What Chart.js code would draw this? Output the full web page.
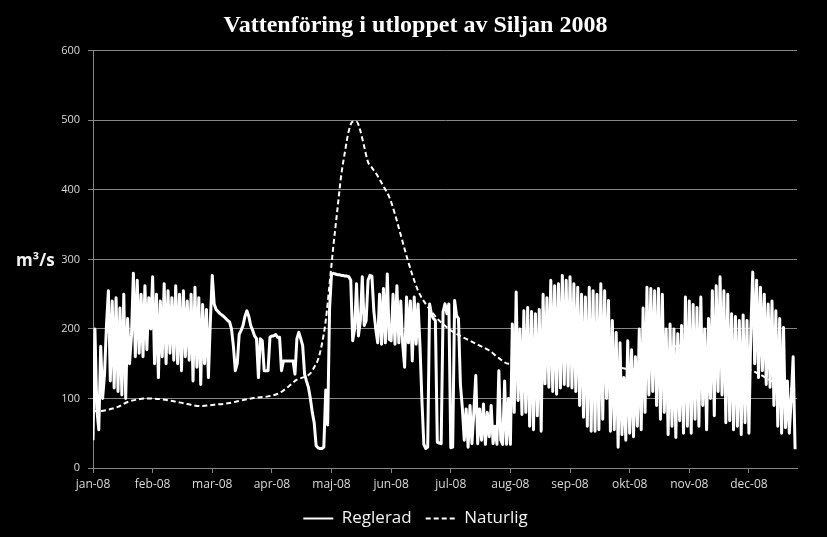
<!DOCTYPE html>
<html>
<head>
<meta charset="utf-8">
<title>Vattenföring i utloppet av Siljan 2008</title>
<script src="https://cdn.jsdelivr.net/npm/chart.js@4.4.0/dist/chart.umd.min.js"></script>
<style>
  html, body { margin: 0; padding: 0; background: #000; }
  canvas { display: block; }
</style>
</head>
<body>
<canvas id="chart" width="827" height="537"></canvas>
<script>
// x-axis: one category per day, Excel puts a tick every 31 days
const monthLabels = ['jan-08', 'feb-08', 'mar-08', 'apr-08', 'maj-08', 'jun-08',
  'jul-08', 'aug-08', 'sep-08', 'okt-08', 'nov-08', 'dec-08'];
const monthTicks = [0, 31, 62, 93, 124, 155, 186, 217, 248, 279, 310, 341];

// Reglerad (m3/s), one value per day
const reglerad = [
  40, 200, 85, 55, 175, 100, 135, 205, 255, 125, 240, 115, 245, 110, 230, 105, 250, 100, 215, 150, 190, 280, 160, 270, 165, 250, 160, 262, 170, 245, 200,
  275, 150, 250, 130, 240, 160, 265, 150, 255, 165, 245, 155, 262, 150, 250, 140, 255, 160, 240, 155, 250, 125, 260, 145, 245, 120, 235, 150, 228, 130, 210,
  277, 236, 228, 225, 222, 220, 218, 215, 212, 210, 200, 175, 140, 150, 192, 198, 205, 218, 226, 218, 205, 198, 190, 186, 130, 186, 183, 140, 140, 140, 188,
  190, 190, 192, 188, 188, 140, 154, 154, 154, 154, 154, 154, 135, 186, 195, 186, 176, 135, 125, 116, 100, 80, 65, 32, 29, 28, 28, 30, 112, 62, 230,
  279, 280, 279, 278, 278, 277, 277, 276, 276, 275, 270, 183, 200, 265, 190, 212, 275, 205, 212, 270, 277, 276, 226, 200, 180, 250, 178, 258, 180, 279, 185,
  183, 250, 178, 262, 180, 240, 178, 145, 246, 180, 240, 154, 246, 178, 236, 175, 97, 34, 28, 30, 236, 220, 215, 212, 37, 36, 35, 225, 236, 222, 236,
  29, 30, 241, 219, 215, 121, 87, 40, 85, 30, 90, 35, 80, 133, 35, 85, 40, 92, 34, 80, 45, 90, 35, 60, 34, 140, 40, 34, 125, 34, 100,
  34, 207, 80, 253, 97, 200, 77, 226, 80, 231, 60, 225, 55, 222, 75, 228, 53, 250, 121, 245, 116, 270, 110, 262, 106, 265, 115, 277, 120, 270, 118,
  275, 115, 265, 110, 260, 90, 250, 73, 246, 60, 260, 53, 255, 53, 250, 55, 265, 70, 255, 100, 241, 53, 212, 55, 195, 30, 180, 48, 130, 40, 183,
  50, 170, 45, 160, 60, 200, 55, 230, 80, 260, 105, 258, 110, 255, 90, 258, 70, 250, 80, 200, 48, 207, 60, 200, 44, 193, 68, 205, 50, 246, 60,
  240, 50, 235, 70, 231, 60, 246, 90, 200, 55, 215, 100, 255, 75, 262, 110, 275, 105, 255, 65, 250, 68, 222, 55, 218, 60, 212, 48, 220, 65, 212,
  50, 200, 282, 150, 270, 130, 260, 140, 250, 120, 236, 116, 240, 90, 226, 60, 215, 50, 202, 58, 125, 50, 100, 160, 27,
];

// Naturlig (m3/s), smooth curve, read at these days
const naturligDag = [0, 4, 8, 13, 18, 22, 28, 35, 42, 49, 56, 63, 70, 77, 84, 91, 97, 102, 106, 110,
  113, 115, 117, 119, 121, 123, 125, 127, 129, 131, 133, 135, 137, 139, 141, 143, 145, 148, 151, 154,
  157, 160, 163, 166, 169, 172, 176, 180, 186, 191, 196, 201, 206, 211, 216, 225, 235, 245, 255, 264,
  272, 280, 290, 298, 304, 310, 318, 326, 335, 345, 355, 365];
const naturligFlode = [82, 82, 84, 88, 95, 98, 100, 99, 96, 92, 89, 91, 93, 97, 101, 103, 108, 118, 127, 131,
  136, 145, 156, 178, 212, 265, 320, 370, 420, 455, 485, 498, 498, 485, 462, 440, 432, 420, 405, 390,
  365, 335, 305, 278, 255, 240, 225, 212, 198, 190, 183, 176, 169, 158, 150, 152, 156, 160, 160, 154,
  146, 142, 148, 165, 176, 172, 162, 155, 148, 137, 122, 112];

const gridColor = '#868686';
const tickColor = '#d9d9d9';
const sans = '"Open Sans", "Liberation Sans", sans-serif';

const yAxisTitle = {
  id: 'yAxisTitle',
  afterDraw(chart) {
    const { ctx, scales } = chart;
    ctx.save();
    ctx.fillStyle = '#f2f2f2';
    ctx.font = `bold 17px ${sans}`;
    ctx.textAlign = 'left';
    ctx.textBaseline = 'middle';
    ctx.fillText('m³/s', 16, scales.y.getPixelForValue(300) + 2);
    ctx.restore();
  },
};

new Chart(document.getElementById('chart'), {
  type: 'line',
  data: {
    datasets: [
      {
        label: 'Reglerad',
        data: reglerad.map((v, i) => ({ x: i, y: v })),
        borderColor: '#ffffff',
        borderWidth: 3,
        borderJoinStyle: 'round',
        pointRadius: 0,
        tension: 0,
      },
      {
        label: 'Naturlig',
        data: naturligDag.map((d, i) => ({ x: d, y: naturligFlode[i] })),
        borderColor: '#ffffff',
        borderWidth: 2,
        borderDash: [5, 3],
        pointRadius: 0,
        cubicInterpolationMode: 'monotone',
      },
    ],
  },
  options: {
    responsive: false,
    animation: false,
    layout: { padding: { left: 34, right: 30, top: 0, bottom: 0 } },
    plugins: {
      title: {
        display: true,
        text: 'Vattenföring i utloppet av Siljan 2008',
        color: '#ffffff',
        font: { family: '"Liberation Serif", "DejaVu Serif", serif', size: 24, weight: 'bold' },
        padding: { top: 11, bottom: 11 },
      },
      legend: {
        position: 'bottom',
        labels: {
          color: '#f2f2f2',
          font: { family: sans, size: 17 },
          usePointStyle: true,
          pointStyle: 'line',
          pointStyleWidth: 30,
          padding: 14,
          generateLabels(chart) {
            const items = Chart.defaults.plugins.legend.labels.generateLabels(chart);
            items.forEach((item) => {
              const ds = chart.data.datasets[item.datasetIndex];
              item.lineDash = ds.borderDash || [];
              item.lineWidth = 2;
              item.strokeStyle = ds.borderColor;
            });
            return items;
          },
        },
      },
      tooltip: { enabled: false },
    },
    scales: {
      x: {
        type: 'linear',
        min: 0,
        max: 366,
        afterBuildTicks: (scale) => {
          scale.ticks = monthTicks.map((v) => ({ value: v }));
        },
        afterFit: (scale) => {
          scale.height = 28;
        },
        ticks: {
          color: tickColor,
          font: { family: sans, size: 12 },
          maxRotation: 0,
          autoSkip: false,
          padding: 4,
          callback: (value, index) => monthLabels[index],
        },
        grid: { drawOnChartArea: false, color: gridColor, tickLength: 5 },
        border: { color: gridColor },
      },
      y: {
        min: 0,
        max: 600,
        afterFit: (scale) => {
          scale.width = 59;
        },
        ticks: {
          stepSize: 100,
          color: tickColor,
          font: { family: sans, size: 11 },
          padding: 8,
        },
        grid: { color: gridColor, tickLength: 5 },
        border: { color: gridColor },
      },
    },
  },
  plugins: [yAxisTitle],
});
</script>
</body>
</html>
